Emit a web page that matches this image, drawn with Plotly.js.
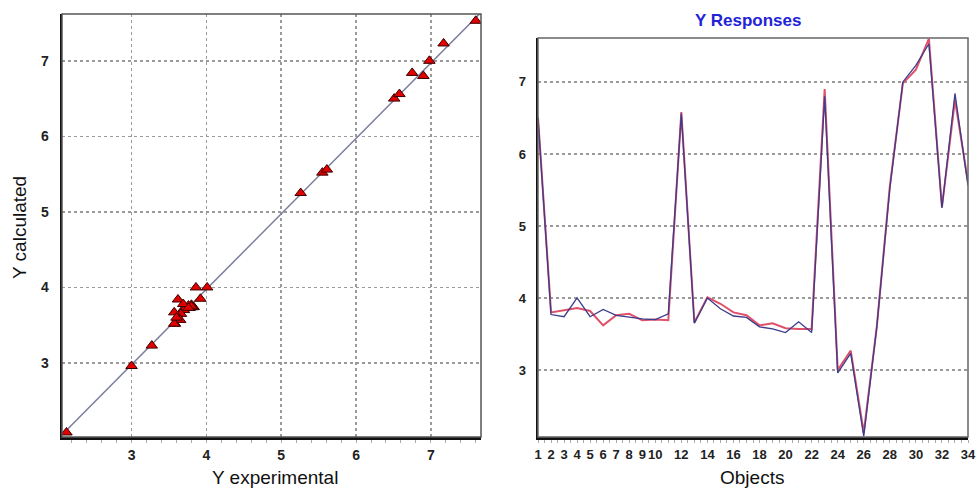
<!DOCTYPE html>
<html>
<head>
<meta charset="utf-8">
<script src="https://cdn.plot.ly/plotly-3.0.1.min.js"></script>
<style>html,body{margin:0;padding:0;background:#fff;}#chart{width:978px;height:490px;}</style>
</head>
<body>
<div id="chart"></div>
<script>
// Object numbers (right panel x axis)
const objects = [1,2,3,4,5,6,7,8,9,10,11,12,13,14,15,16,17,18,19,20,21,22,23,24,25,26,27,28,29,30,31,32,33,34];
// Experimental Y (red line, scatter x)
const yExperimental = [6.51,3.80,3.83,3.86,3.82,3.62,3.76,3.78,3.69,3.70,3.69,6.58,3.66,4.01,3.92,3.80,3.76,3.62,3.65,3.58,3.57,3.57,6.90,3.00,3.27,2.13,3.60,5.55,6.98,7.17,7.60,5.26,6.75,5.61];
// Calculated Y (blue line, scatter y)
const yCalculated = [6.50,3.77,3.74,4.00,3.74,3.84,3.76,3.73,3.71,3.70,3.78,6.56,3.65,4.00,3.85,3.75,3.73,3.60,3.57,3.52,3.67,3.52,6.80,2.96,3.23,2.08,3.60,5.52,7.00,7.23,7.53,5.25,6.84,5.56];
// Ideal fit line end points
const fitX = [2.08, 7.67];
const fitY = [2.06, 7.64];
// Tick labels
const objectTicks = [1,2,3,4,5,6,7,8,9,10,12,14,16,18,20,22,24,26,28,30,32,34];
const leftTicks = [3,4,5,6,7];
const rightYTicks = [3,4,5,6,7];

const W = 978, H = 490;
const px = (a,b) => [a/W, b/W];
const py = (top,bot) => [(H-bot)/H, (H-top)/H];

const FONT = 'Liberation Sans, Arial, sans-serif';
const tickFont = {family:FONT, size:14, color:'#222', weight:'bold'};
const gridCommon = {showgrid:true, gridcolor:'#9a9a9a', griddash:'dot', gridwidth:1.5, zeroline:false,
  showline:true, linecolor:'#111', linewidth:2.5, ticks:'', tickfont:tickFont, ticklabeloverflow:'allow'};

const traces = [
  {x: fitX, y: fitY, xaxis:'x', yaxis:'y', mode:'lines', line:{color:'#7a7c9e', width:1.5}, hoverinfo:'skip'},
  {x: yExperimental, y: yCalculated, xaxis:'x', yaxis:'y', mode:'markers',
   marker:{symbol:'triangle-up', size:10, color:'#e00000', line:{color:'#3a0000', width:1}}},
  {x: objects, y: yExperimental, xaxis:'x2', yaxis:'y2', mode:'lines', line:{color:'#e0506a', width:2}},
  {x: objects, y: yCalculated, xaxis:'x2', yaxis:'y2', mode:'lines', line:{color:'#3a3c8c', width:1.3}}
];

const layout = {
  width: W, height: H,
  margin:{l:0,r:0,t:0,b:0},
  paper_bgcolor:'#fff', plot_bgcolor:'#fff',
  showlegend:false,
  xaxis: Object.assign({}, gridCommon, {domain: px(62,481), range:[2.07,7.67], tickvals:leftTicks, anchor:'y',
    ticklabelstandoff:4,
    minor:{ticks:'outside', ticklen:3, tickcolor:'#aaa', dtick:0.2, showgrid:false}}),
  yaxis: Object.assign({}, gridCommon, {domain: py(14,437), range:[2.02,7.62], tickvals:leftTicks, anchor:'x', ticklabelstandoff:8}),
  xaxis2: Object.assign({}, gridCommon, {domain: px(538,968), range:[1,34], tickvals:objectTicks, anchor:'y2', showgrid:false,
    tickfont:Object.assign({}, tickFont, {size:13}), ticklabelstandoff:4,
    minor:{ticks:'outside', ticklen:3, tickcolor:'#aaa', dtick:0.5, showgrid:false}}),
  yaxis2: Object.assign({}, gridCommon, {domain: py(38,437), range:[2.07,7.61], tickvals:rightYTicks, anchor:'x2',
    tickfont:Object.assign({}, tickFont, {size:13}), ticklabelstandoff:7}),
  shapes: [
    {type:'rect', xref:'x domain', yref:'y domain', x0:0, x1:1, y0:0, y1:1, line:{color:'#555', width:1.5}},
    {type:'rect', xref:'x2 domain', yref:'y2 domain', x0:0, x1:1, y0:0, y1:1, line:{color:'#666', width:1.5}}
  ],
  annotations: [
    {text:'Y Responses', xref:'paper', yref:'paper', x:748/W, y:1-21/H, xanchor:'center', yanchor:'middle', showarrow:false,
     font:{family:FONT, size:17, color:'#2323d6', weight:'bold'}},
    {text:'Y experimental', xref:'paper', yref:'paper', x:275/W, y:1-477/H, xanchor:'center', yanchor:'middle', showarrow:false,
     font:{family:FONT, size:19, color:'#111'}},
    {text:'Y calculated', xref:'paper', yref:'paper', x:19/W, y:1-228/H, xanchor:'center', yanchor:'middle', showarrow:false, textangle:-90,
     font:{family:FONT, size:19, color:'#111'}},
    {text:'Objects', xref:'paper', yref:'paper', x:752/W, y:1-477/H, xanchor:'center', yanchor:'middle', showarrow:false,
     font:{family:FONT, size:19, color:'#111'}}
  ]
};

Plotly.newPlot('chart', traces, layout, {displayModeBar:false, staticPlot:true});
</script>
</body>
</html>
